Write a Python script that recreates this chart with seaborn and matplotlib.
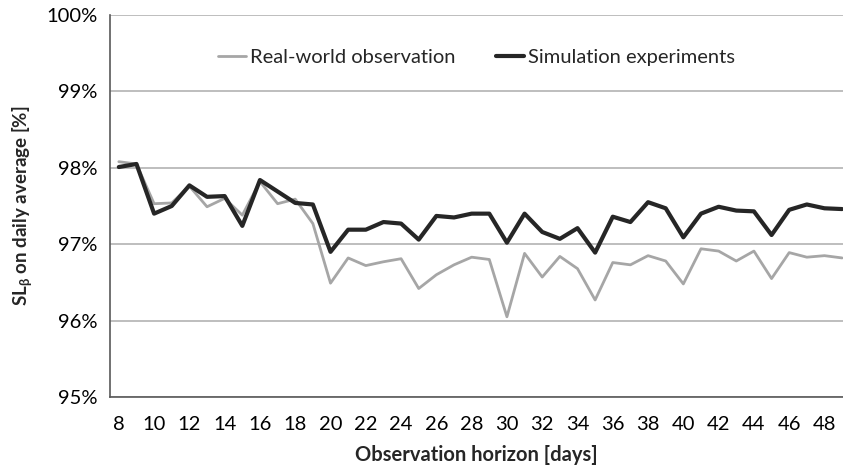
import numpy as np
import pandas as pd
import matplotlib
matplotlib.use("Agg")
import matplotlib.pyplot as plt
import seaborn as sns

days = list(range(8, 50))
real_world = [98.08, 98.05, 97.53, 97.54, 97.76, 97.49, 97.60, 97.38, 97.82, 97.53,
              97.59, 97.27, 96.49, 96.82, 96.72, 96.77, 96.81, 96.42, 96.60, 96.73,
              96.83, 96.80, 96.05, 96.88, 96.57, 96.84, 96.68, 96.27, 96.76, 96.73,
              96.85, 96.78, 96.48, 96.94, 96.91, 96.78, 96.91, 96.55, 96.89, 96.83,
              96.85, 96.82]
simulation = [98.01, 98.05, 97.40, 97.50, 97.77, 97.62, 97.63, 97.24, 97.84, 97.69,
              97.54, 97.52, 96.90, 97.19, 97.19, 97.29, 97.27, 97.06, 97.37, 97.35,
              97.40, 97.40, 97.02, 97.40, 97.16, 97.07, 97.21, 96.89, 97.36, 97.29,
              97.55, 97.47, 97.09, 97.40, 97.49, 97.44, 97.43, 97.12, 97.45, 97.52,
              97.47, 97.46]
series_names = ["Real-world observation", "Simulation experiments"]

df = pd.DataFrame({"day": days, series_names[0]: real_world, series_names[1]: simulation})
long = df.melt(id_vars="day", var_name="series", value_name="sl")

sns.set_style("white")
plt.rcParams["font.family"] = ["Lato", "DejaVu Sans"]
plt.rcParams["mathtext.fontset"] = "custom"
plt.rcParams["mathtext.rm"] = "Lato:bold"

fig = plt.figure(figsize=(8.43, 4.71), dpi=100)
ax = fig.add_axes([110 / 843, 1 - 397 / 471, 733 / 843, 382 / 471])

sns.lineplot(data=long, x="day", y="sl", hue="series", hue_order=series_names,
             palette={series_names[0]: "#a6a6a6", series_names[1]: "#262626"},
             ax=ax, legend=False)
ax.lines[0].set_linewidth(2.0)
ax.lines[1].set_linewidth(3.0)

ax.set_xlim(7.5, 49.05)
ax.set_ylim(95, 100)
ax.set_yticks(np.arange(95, 100.5, 1))
ax.set_yticklabels([f"{v:.0f}%" for v in np.arange(95, 100.5, 1)])
ax.set_xticks(range(8, 49, 2))
ax.tick_params(axis="both", length=0, labelsize=14.5, colors="#000000")
ax.tick_params(axis="x", pad=14)
ax.tick_params(axis="y", pad=9)

ax.grid(axis="y", color="#b3b3b3", linewidth=1.2)
ax.set_axisbelow(True)
for side in ["top", "right"]:
    ax.spines[side].set_visible(False)
for side in ["left", "bottom"]:
    ax.spines[side].set_color("#595959")
    ax.spines[side].set_linewidth(1.2)

ax.set_xlabel("Observation horizon [days]", fontsize=14.5, fontweight="bold", labelpad=8)
ax.set_ylabel(r"SL$_\mathrm{β}$ on daily average [%]", fontsize=13.5, fontweight="bold",
              labelpad=8)

handles = [plt.Line2D([], [], color="#a6a6a6", lw=2.0),
           plt.Line2D([], [], color="#262626", lw=3.0)]
ax.legend(handles, series_names, loc="center", bbox_to_anchor=(0.5, 0.89),
          ncol=2, frameon=False, fontsize=14.5, handlelength=1.4, columnspacing=2.0,
          handletextpad=0.2)

fig.savefig("out.png", dpi=100)
